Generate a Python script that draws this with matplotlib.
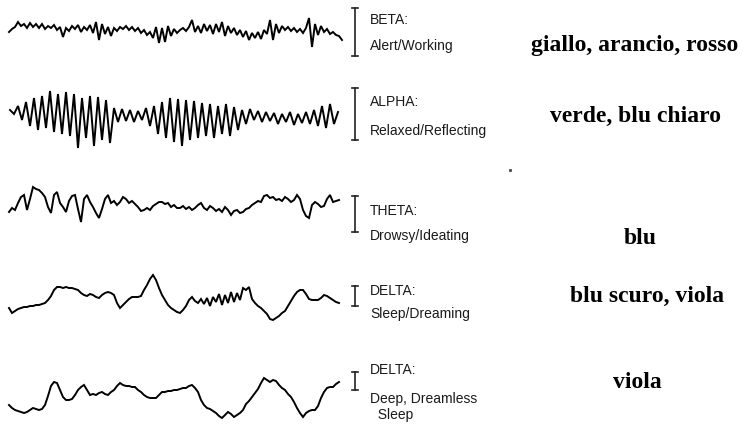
import numpy as np
import matplotlib
matplotlib.use("Agg")
from matplotlib import pyplot as plt

# EEG traces, values (pixels, up = positive), one value every few px
beta = [-2, 1, 3, 8, 4, 6, 2, 7, 3, 6, 2, 6, 1, 4, 2, 5, 0, 3,
        -7, 2, -1, 4, 1, 5, -2, 3, 0, 5, -3, 8, -10, 6, -4, 3, -6, 2, -1, 3,
        1, 4, 0, 3, -1, 2, -3, 0, -5, -2, -8, 3, -13, 2, -12, 4, -6, 1, -3, 0,
        2, -1, 3, 10, -2, 4, -3, 6, -1, 5, -4, 6, -2, 8, -6, 4, -3, 2, -5, 0,
        -7, -1, -10, -3, -8, -2, -9, 0, -4, 10, -10, 6, -3, 4, 0, 3, -1, 2, -2, 1,
        -3, 2, 12, -17, 6, -5, 4, -2, 1, -4, -2, -5, -6, -10]

alpha = [6, 2, 10, -4, 14, -10, 18, -14, 20, -12, 25, -16, 22, -18, 24, -20,
         22, -32, 18, -22, 20, -30, 19, -24, 16, -27, 8, -6, 7, -5, 6, -6,
         5, -4, 8, -10, 10, -18, 14, -22, 18, -26, 17, -30, 16, -24, 15, -22,
         13, -20, 12, -22, 10, -18, 12, -20, 9, -14, 6, -8, 7, -4, 5, -6,
         4, -5, 3, -8, 2, -6, 4, -9, 2, -7, 4, -8, 6, -10, 10, -12, 12, -8, 4]

theta = [-7, -3, -5, 2, 8, 10, -5, 6, 18, 16, 15, 12, 8, -2, -8, 10, 13, 2,
         -2, -7, 4, 9, 10, -4, -17, 6, 10, 3, -2, -8, -13, -4, 6, 10, 2, 4,
         0, 3, 8, 6, 2, 4, 1, -2, -6, -5, -3, -5, -1, 1, 3, 3, 1, 2,
         -2, 0, -3, -3, -1, -4, -2, -5, -3, 0, 2, -3, -5, -1, -3, -6, -4, -7,
         -2, -5, -10, -6, -5, -8, -7, -4, -3, 0, 2, 4, 3, 9, 10, 7, 8, 5,
         6, 4, 8, 6, 3, 5, 10, 6, -5, -11, -13, 0, 3, 1, -2, -1, 6, 10,
         3, 4, 5]

delta_dream = [-8, -13, -11, -9, -8, -7, -7, -6, -6, -5, -5, -4, -3, 0, 4, 10,
               13, 13, 12, 13, 12, 12, 11, 10, 7, 5, 4, 6, 5, 3, 2, 5,
               7, 8, 7, 5, -3, -8, -5, -2, 1, 3, 3, 3, 4, 10, 15, 21,
               25, 20, 12, 5, 0, -5, -8, -10, -12, -13, -10, -6, 0, 3, -1, -3,
               1, -4, 2, -6, 3, -2, 6, -5, 5, -3, 8, -2, 7, 0, 12, 10,
               13, 1, -3, -6, -8, -11, -14, -19, -20, -18, -16, -13, -11, -6, -1, 4,
               8, 10, 10, 6, 1, 0, 0, 0, 2, 5, 4, 2, 0, -2, -3]

delta_deep = [-5, -8, -10, -11, -12, -13, -12, -10, -8, -9, -10, -9, -5, 4, 14, 18,
              17, 10, 3, 0, 0, 1, 5, 10, 13, 15, 10, 5, 6, 5, 7, 8,
              6, 5, 8, 10, 14, 17, 15, 14, 14, 13, 13, 10, 8, 5, 3, 2,
              2, 2, 5, 8, 8, 9, 9, 10, 10, 11, 12, 12, 14, 15, 12, 8,
              0, -5, -8, -9, -11, -13, -16, -18, -15, -12, -14, -17, -15, -13, -10, -4,
              -1, 3, 7, 11, 17, 22, 20, 18, 20, 19, 15, 12, 10, 6, 3, -2,
              -8, -13, -17, -13, -11, -10, -10, -6, 2, 8, 12, 13, 13, 16, 18]

band_names = ["BETA:", "ALPHA:", "THETA:", "DELTA:", "DELTA:"]
band_states = ["Alert/Working", "Relaxed/Reflecting", "Drowsy/Ideating",
               "Sleep/Dreaming", "Deep, Dreamless\n  Sleep"]
colour_notes = ["giallo, arancio, rosso", "verde, blu chiaro", "blu",
                "blu scuro, viola", "viola"]

traces = [beta, alpha, theta, delta_dream, delta_deep]
baselines = [30, 116, 205, 300, 400]
x_span = [(9, 342), (10, 338), (9, 339), (9, 339), (9, 339)]
brackets = [(8, 56), (88, 140), (196, 232), (286, 306), (372, 390)]
name_y = [20, 102, 211, 291, 370]
state_y = [46, 131, 236, 314, 407]
note_y = [45, 116, 238, 296, 383]
note_x = [635, 635, 640, 647, 637]

fig = plt.figure(figsize=(7.43, 4.28), dpi=100)
ax = fig.add_axes([0, 0, 1, 1])
ax.set_xlim(0, 743)
ax.set_ylim(428, 0)
ax.axis("off")

for _i, _tr in enumerate(traces):
    _x = np.linspace(x_span[_i][0], x_span[_i][1], len(_tr))
    _y = baselines[_i] - np.array(_tr, dtype=float)
    ax.plot(_x, _y, color="black", lw=1.4, solid_joinstyle="miter")

    # scale bar
    _top, _bot = brackets[_i]
    ax.plot([355, 355], [_top, _bot], color="#222222", lw=1.2)
    ax.plot([352, 358], [_top, _top], color="#222222", lw=1.2)
    ax.plot([352, 358], [_bot, _bot], color="#222222", lw=1.2)

    ax.text(370, name_y[_i], band_names[_i], fontsize=10, family="Liberation Sans",
            color="#1a1a1a", va="center", ha="left")
    ax.text(370, state_y[_i], band_states[_i], fontsize=10, family="Liberation Sans",
            color="#1a1a1a", va="center", ha="left", linespacing=1.2)
    ax.text(note_x[_i], note_y[_i], colour_notes[_i], fontsize=17, family="Liberation Serif",
            fontweight="bold", color="black", va="center", ha="center")

# stray speck in the scan
ax.plot([510], [170], marker="s", ms=1.2, color="#555555", lw=0)

fig.savefig("out.png", dpi=100)
